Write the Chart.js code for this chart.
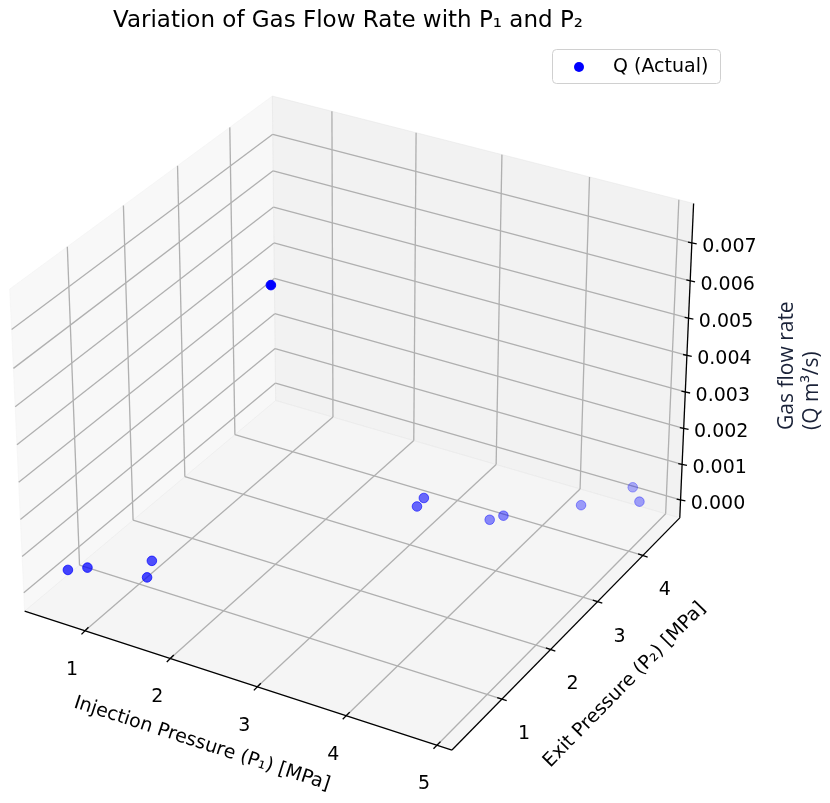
<!DOCTYPE html>
<html>
<head>
<meta charset="utf-8">
<title>Gas flow rate vs P1 and P2</title>
<script src="https://cdn.jsdelivr.net/npm/chart.js@4.4.1/dist/chart.umd.min.js"></script>
<style>
  html, body { margin: 0; padding: 0; background: #fff; }
  #wrap { width: 830px; height: 803px; position: relative; }
</style>
</head>
<body>
<div id="wrap"><canvas id="gasChart"></canvas></div>
<script>
// 1. DATA - one entry per run: injection pressure, exit pressure, measured flow
const p1Values = [0.65, 0.81, 1.26, 1.31, 2.18, 3.26, 3.26, 3.68, 3.79, 4.32, 4.62, 4.81];
const p2Values = [0.26, 0.37, 0.85, 0.68, 1.68, 2.68, 2.82, 3.45, 3.54, 4.24, 4.82, 4.60];
const qValues  = [0.00058, 0.00062, 0.00052, 0.00032, 0.00749, 0.00115, 0.00121, 0.00012, 0.00020, 0, 0, 0];

const p1Ticks = [1, 2, 3, 4, 5];
const p2Ticks = [1, 2, 3, 4];
const qTicks = [0, 0.001, 0.002, 0.003, 0.004, 0.005, 0.006, 0.007];

// box limits of the 3D axes
const p1Limits = [0.28, 5.163];
const p2Limits = [0.01, 4.84];
const qLimits = [-0.000506, 0.008034];

// 2. 3D PROJECTION (matplotlib style camera: elev 30, azim -60, perspective)
const ELEV = 30, AZIM = -60, DIST = 10;
const BOX = [4, 4, 3].map(v => v * 1.8294640721620434 / Math.hypot(4, 4, 3));
const elevR = ELEV * Math.PI / 180, azimR = AZIM * Math.PI / 180;
const viewW = [Math.cos(elevR) * Math.cos(azimR), Math.cos(elevR) * Math.sin(azimR), Math.sin(elevR)];
let viewU = [-viewW[1], viewW[0], 0];
const uLen = Math.hypot(viewU[0], viewU[1]);
viewU = viewU.map(c => c / uLen);
const viewV = [
    viewW[1] * viewU[2] - viewW[2] * viewU[1],
    viewW[2] * viewU[0] - viewW[0] * viewU[2],
    viewW[0] * viewU[1] - viewW[1] * viewU[0]
];
const dot = (a, b) => a[0] * b[0] + a[1] * b[1] + a[2] * b[2];

function project(p1, p2, q) {
    const c = [
        ((p1 - p1Limits[0]) / (p1Limits[1] - p1Limits[0]) - 0.5) * BOX[0],
        ((p2 - p2Limits[0]) / (p2Limits[1] - p2Limits[0]) - 0.5) * BOX[1],
        ((q - qLimits[0]) / (qLimits[1] - qLimits[0]) - 0.5) * BOX[2]
    ];
    const depth = dot(viewW, c);
    const s = DIST - depth;
    return { x: dot(viewU, c) / s, y: dot(viewV, c) / s, depth: depth };
}

// projected points, shaded by depth (nearest opaque, farthest 0.3)
const points = p1Values.map((p, i) => project(p, p2Values[i], qValues[i]));
const vz = points.map(pt => DIST / (pt.depth - DIST));
const vzMin = Math.min(...vz), vzMax = Math.max(...vz);
points.forEach((pt, k) => { pt.alpha = 1 - 0.7 * (vz[k] - vzMin) / (vzMax - vzMin); });
points.sort((a, b) => a.depth - b.depth); // far ones first

// 3. AXES BOX PLUGIN (panes, grid, axis lines, ticks, labels)
const FONT = '"DejaVu Sans", "Liberation Sans", sans-serif';

const axes3d = {
    id: 'axes3d',
    beforeDatasetsDraw(chart) {
        const ctx = chart.ctx;
        const sx = chart.scales.x, sy = chart.scales.y;
        const px = (a, b, c) => {
            const pr = project(a, b, c);
            return [sx.getPixelForValue(pr.x), sy.getPixelForValue(pr.y)];
        };
        const [x0, x1] = p1Limits, [y0, y1] = p2Limits, [z0, z1] = qLimits;

        const pane = (corners, color) => {
            ctx.beginPath();
            corners.forEach((c, i) => {
                const p = px(c[0], c[1], c[2]);
                if (i === 0) ctx.moveTo(p[0], p[1]); else ctx.lineTo(p[0], p[1]);
            });
            ctx.closePath();
            ctx.fillStyle = color;
            ctx.fill();
            ctx.strokeStyle = color;
            ctx.lineWidth = 1;
            ctx.stroke();
        };
        const line = (a, b, color, width) => {
            const p = px(a[0], a[1], a[2]), q = px(b[0], b[1], b[2]);
            ctx.beginPath();
            ctx.moveTo(p[0], p[1]);
            ctx.lineTo(q[0], q[1]);
            ctx.strokeStyle = color;
            ctx.lineWidth = width;
            ctx.stroke();
        };

        ctx.save();
        // back panes
        pane([[x0, y0, z0], [x0, y1, z0], [x0, y1, z1], [x0, y0, z1]], 'rgba(242,242,242,0.5)');
        pane([[x0, y1, z0], [x1, y1, z0], [x1, y1, z1], [x0, y1, z1]], 'rgba(230,230,230,0.5)');
        pane([[x0, y0, z0], [x1, y0, z0], [x1, y1, z0], [x0, y1, z0]], 'rgba(236,236,236,0.5)');

        // grid lines
        const grid = '#b0b0b0';
        p1Ticks.forEach(t => {
            line([t, y0, z0], [t, y1, z0], grid, 1.3);
            line([t, y1, z0], [t, y1, z1], grid, 1.3);
        });
        p2Ticks.forEach(t => {
            line([x0, t, z0], [x1, t, z0], grid, 1.3);
            line([x0, t, z0], [x0, t, z1], grid, 1.3);
        });
        qTicks.forEach(t => {
            line([x0, y0, t], [x0, y1, t], grid, 1.3);
            line([x0, y1, t], [x1, y1, t], grid, 1.3);
        });

        // axis lines
        line([x0, y0, z0], [x1, y0, z0], '#000', 1.3);
        line([x1, y0, z0], [x1, y1, z0], '#000', 1.3);
        line([x1, y1, z0], [x1, y1, z1], '#000', 1.3);

        // ticks and tick labels
        ctx.fillStyle = '#000';
        ctx.font = '19px ' + FONT;
        ctx.textAlign = 'center';
        ctx.textBaseline = 'middle';
        const tick = (p, dx, dy, len0, len1) => {
            ctx.beginPath();
            ctx.moveTo(p[0] - dx * len0, p[1] - dy * len0);
            ctx.lineTo(p[0] + dx * len1, p[1] + dy * len1);
            ctx.strokeStyle = '#000';
            ctx.lineWidth = 1.3;
            ctx.stroke();
        };
        p1Ticks.forEach(t => {
            const p = px(t, y0, z0);
            tick(p, 0.70, -0.71, 5, 5);
            ctx.fillText(String(t), p[0] - 13, p[1] + 39);
        });
        p2Ticks.forEach(t => {
            const p = px(x1, t, z0);
            tick(p, 0.95, 0.31, 5, 5);
            ctx.fillText(String(t), p[0] + 22, p[1] + 35);
        });
        qTicks.forEach(t => {
            const p = px(x1, y1, t);
            tick(p, 0.97, 0.2, 4, 5);
            ctx.fillText(t.toFixed(3), p[0] + 37.5, p[1] + 4);
        });

        // axis labels, rotated along their axes
        const xa = px(x0, y0, z0), xb = px(x1, y0, z0);
        const xm = px((x0 + x1) / 2, y0, z0);
        ctx.save();
        ctx.translate(xm[0] - 31, xm[1] + 65);
        ctx.rotate(Math.atan2(xb[1] - xa[1], xb[0] - xa[0]));
        ctx.fillText('Injection Pressure (P\u2081) [MPa]', 0, 0);
        ctx.restore();

        const ya = px(x1, y0, z0), yb = px(x1, y1, z0);
        const ym = px(x1, (y0 + y1) / 2, z0);
        ctx.save();
        ctx.translate(ym[0] + 54, ym[1] + 56);
        ctx.rotate(Math.atan2(yb[1] - ya[1], yb[0] - ya[0]));
        ctx.fillText('Exit Pressure (P\u2082) [MPa]', 0, 0);
        ctx.restore();

        ctx.save();
        ctx.fillStyle = '#1a2238';
        ctx.font = '21px "Open Sans", "Lato", sans-serif';
        ctx.textAlign = 'left';
        ctx.translate(787, 430);
        ctx.rotate(-Math.PI / 2);
        ctx.fillText('Gas flow rate', 0, 0);
        ctx.fillText('(Q m\u00b3/s)', 0, 25);
        ctx.restore();

        ctx.restore();
    },
    afterDatasetsDraw(chart) {
        const ctx = chart.ctx;
        ctx.save();
        // title
        ctx.fillStyle = '#000';
        ctx.font = '23px ' + FONT;
        ctx.textAlign = 'center';
        ctx.textBaseline = 'alphabetic';
        ctx.fillText('Variation of Gas Flow Rate with P\u2081 and P\u2082', 348, 27);

        // legend box
        ctx.beginPath();
        ctx.roundRect(552.5, 49.5, 168, 34, 4);
        ctx.fillStyle = 'rgba(255,255,255,0.8)';
        ctx.fill();
        ctx.strokeStyle = '#d0d0d0';
        ctx.lineWidth = 1;
        ctx.stroke();
        ctx.beginPath();
        ctx.arc(579, 67, 5, 0, Math.PI * 2);
        ctx.fillStyle = '#0000ff';
        ctx.fill();
        ctx.fillStyle = '#000';
        ctx.font = '19px ' + FONT;
        ctx.textAlign = 'left';
        ctx.textBaseline = 'middle';
        ctx.fillText(chart.data.datasets[0].label, 613, 67);
        ctx.restore();
    }
};

// 4. CHART - view limits in projected units, full canvas as plot area
const PX_PER_UNIT = 4285;
const CENTER_X = 358, CENTER_Y = 408;

const ctx = document.getElementById('gasChart').getContext('2d');
new Chart(ctx, {
    type: 'scatter',
    data: {
        datasets: [{
            label: 'Q (Actual)',
            data: points.map(pt => ({ x: pt.x, y: pt.y })),
            pointBackgroundColor: points.map(pt => `rgba(0,0,255,${pt.alpha.toFixed(3)})`),
            pointBorderColor: points.map(pt => `rgba(0,0,255,${pt.alpha.toFixed(3)})`),
            pointBorderWidth: 1,
            pointRadius: 4.8,
            pointHoverRadius: 4.8
        }]
    },
    options: {
        responsive: true,
        maintainAspectRatio: false,
        animation: false,
        devicePixelRatio: 1,
        events: [],
        layout: { padding: 0, autoPadding: false },
        scales: {
            x: { type: 'linear', display: false, min: -CENTER_X / PX_PER_UNIT, max: (830 - CENTER_X) / PX_PER_UNIT },
            y: { type: 'linear', display: false, min: -(803 - CENTER_Y) / PX_PER_UNIT, max: CENTER_Y / PX_PER_UNIT }
        },
        plugins: {
            legend: { display: false },
            title: { display: false },
            tooltip: { enabled: false }
        }
    },
    plugins: [axes3d]
});
</script>
</body>
</html>
